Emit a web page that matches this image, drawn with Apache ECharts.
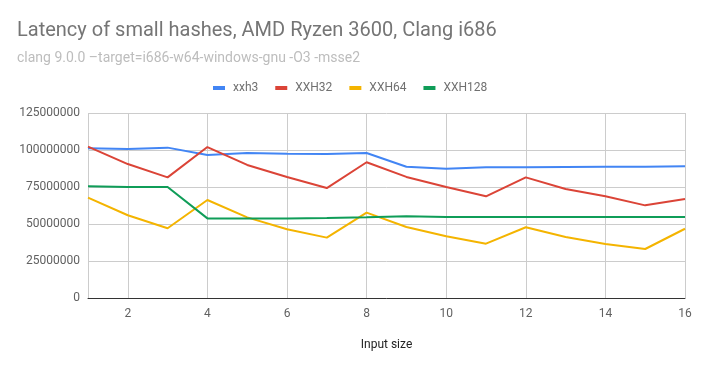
<!DOCTYPE html>
<html>
<head>
<meta charset="utf-8">
<script src="https://cdn.jsdelivr.net/npm/echarts@6/dist/echarts.min.js"></script>
<style>
  html, body { margin: 0; padding: 0; background: #fff; }
  #chart { width: 704px; height: 371px; }
</style>
</head>
<body>
<div id="chart"></div>
<script>
// input sizes (x)
var sizes = [1, 2, 3, 4, 5, 6, 7, 8, 9, 10, 11, 12, 13, 14, 15, 16]
// latency values
var xxh3 = [101100000, 100700000, 101600000, 96600000, 98000000, 97500000, 97300000, 98000000,
            88700000, 87300000, 88300000, 88300000, 88500000, 88700000, 88700000, 89000000]
var xxh32 = [102300000, 90500000, 81500000, 102000000, 89900000, 81800000, 74300000, 91700000,
             81800000, 75000000, 68700000, 81500000, 73600000, 68700000, 62600000, 66900000]
var xxh64 = [67800000, 55900000, 47100000, 66200000, 54500000, 46400000, 40800000, 57700000,
             48000000, 41700000, 36700000, 47800000, 41200000, 36500000, 33100000, 46800000]
var xxh128 = [75500000, 75000000, 75000000, 53800000, 53800000, 53800000, 54000000, 54500000,
              55200000, 54700000, 54700000, 54700000, 54700000, 54700000, 54700000, 54700000]
var seriesNames = ['xxh3', 'XXH32', 'XXH64', 'XXH128']
var yTicks = { min: 0, max: 125000000, step: 25000000 }

function pairs(arr) {
  return arr.map(function (v, i) { return [sizes[i], v] })
}

var myChart = echarts.init(document.getElementById('chart'))
var font = 'Roboto, sans-serif'
var option = {
  animation: false,
  color: ['#4285f4', '#db4437', '#f4b400', '#0f9d58'],
  title: {
    text: 'Latency of small hashes, AMD Ryzen 3600, Clang i686',
    subtext: 'clang 9.0.0 \u2013target=i686-w64-windows-gnu -O3 -msse2',
    left: 12,
    top: 16,
    itemGap: 10,
    textStyle: { fontFamily: font, fontSize: 20, fontWeight: 'normal', color: '#757575' },
    subtextStyle: { fontFamily: font, fontSize: 14, color: '#bdbdbd' }
  },
  legend: {
    data: seriesNames,
    top: 77,
    left: 208,
    icon: 'rect',
    itemWidth: 12,
    itemHeight: 4,
    itemGap: 17,
    textStyle: { fontFamily: font, fontSize: 12, color: '#707070', padding: [0, 0, 0, 3] }
  },
  grid: { left: 88, right: 19, top: 113, bottom: 73, containLabel: false },
  xAxis: {
    type: 'value',
    min: 1,
    max: 16,
    splitNumber: 8,
    name: 'Input size',
    nameLocation: 'middle',
    nameGap: 41,
    nameTextStyle: { fontFamily: font, fontSize: 12, color: '#222' },
    axisLine: { show: true, lineStyle: { color: '#333', width: 1 } },
    axisTick: { show: false },
    axisLabel: { showMinLabel: false, margin: 10, fontFamily: font, fontSize: 12, color: '#616161' },
    splitLine: { show: true, lineStyle: { color: '#ccc' } }
  },
  yAxis: {
    type: 'value',
    min: yTicks.min,
    max: yTicks.max,
    interval: yTicks.step,
    axisLine: { show: false },
    axisTick: { show: false },
    axisLabel: {
      margin: 8, fontFamily: font, fontSize: 12, color: '#616161',
      formatter: function (v) { return String(v) }
    },
    splitLine: { show: true, lineStyle: { color: '#ccc' } }
  },
  series: [xxh3, xxh32, xxh64, xxh128].map(function (arr, i) {
    return {
      name: seriesNames[i],
      type: 'line',
      data: pairs(arr),
      showSymbol: false,
      symbol: 'none',
      lineStyle: { width: 2 }
    }
  })
}
myChart.setOption(option)
</script>
</body>
</html>
